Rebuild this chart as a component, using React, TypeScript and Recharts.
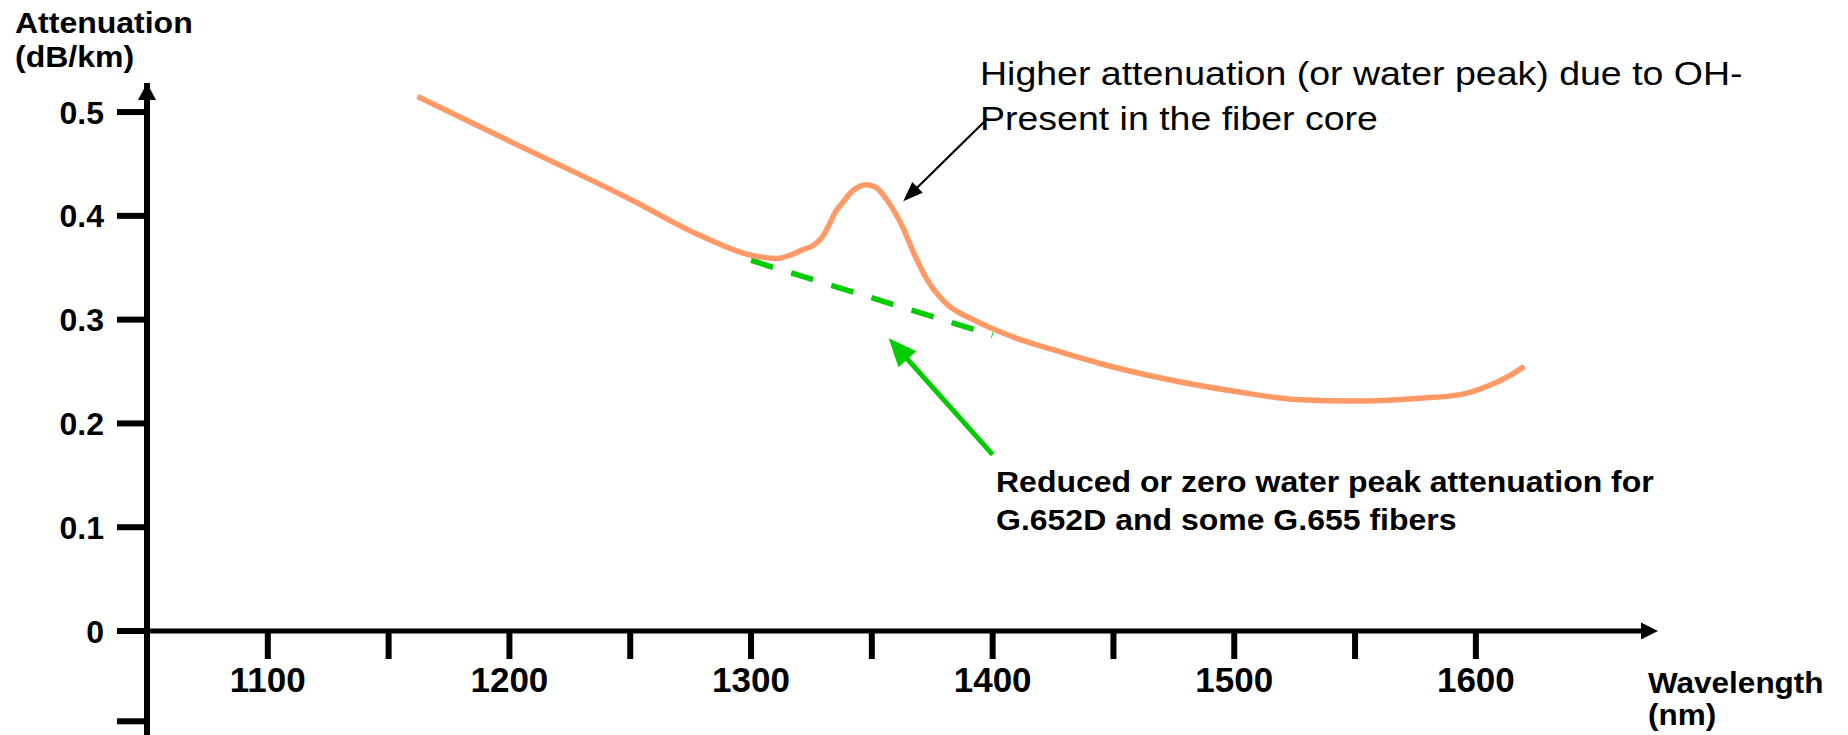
import React from 'react';
import { LineChart, Line, XAxis, YAxis, ReferenceLine } from 'recharts';

// ---- data ----
const WAVELENGTH_NM = [1162, 1200, 1250, 1279, 1300, 1311, 1316, 1321, 1326, 1329, 1332, 1335, 1338, 1342, 1348, 1352, 1356, 1363, 1367, 1373, 1381, 1392, 1410, 1425, 1444, 1500, 1526, 1550, 1575, 1594, 1606, 1614, 1620];
const ATTENUATION_DB_KM = [0.515, 0.472, 0.416, 0.381, 0.362, 0.359, 0.362, 0.367, 0.372, 0.378, 0.39, 0.404, 0.413, 0.424, 0.43, 0.427, 0.416, 0.388, 0.366, 0.338, 0.315, 0.3, 0.282, 0.271, 0.258, 0.231, 0.223, 0.2215, 0.224, 0.228, 0.237, 0.246, 0.255];

const LOW_WATER_PEAK_NM = [1300, 1400];
const LOW_WATER_PEAK_DB_KM = [0.357, 0.285];

const X_TICKS = [1100, 1150, 1200, 1250, 1300, 1350, 1400, 1450, 1500, 1550, 1600];
const X_LABELLED_EVERY = 100;
const Y_TICKS = [0, 0.1, 0.2, 0.3, 0.4, 0.5];
const Y_BELOW_ZERO_TICK = -0.087;

const X_DOMAIN: [number, number] = [1050, 1670];
const Y_DOMAIN: [number, number] = [0, 0.528];

// annotation arrows (tail -> tip), in data coordinates
const OH_ARROW_NM = [1398, 1363];
const OH_ARROW_DB = [0.494, 0.414];
const LWP_ARROW_NM = [1400, 1357];
const LWP_ARROW_DB = [0.17, 0.282];

const OH_TEXT = ['Higher attenuation (or water peak) due to OH-', 'Present in the fiber core'];
const LWP_TEXT = ['Reduced or zero water peak attenuation for', 'G.652D and some G.655 fibers'];
const Y_TITLE = ['Attenuation', '(dB/km)'];
const X_TITLE = ['Wavelength', '(nm)'];

const curveData = WAVELENGTH_NM.map((x, i) => ({ x, y: ATTENUATION_DB_KM[i] }));
const lwpData = LOW_WATER_PEAK_NM.map((x, i) => ({ x, y: LOW_WATER_PEAK_DB_KM[i] }));

// ---- layout ----
const W = 1848;
const H = 735;
const M_TOP = 83;
const M_RIGHT = 203;
const Y_AXIS_W = 147;
const X_AXIS_H = 104;
const PLOT_BOTTOM = H - X_AXIS_H;
const PLOT_RIGHT = W - M_RIGHT;
const PX_PER_UNIT = (PLOT_BOTTOM - M_TOP) / (Y_DOMAIN[1] - Y_DOMAIN[0]);

const FONT = '"Liberation Sans", Arial, Helvetica, sans-serif';
const ORANGE = '#FF9966';
const GREEN = '#00CC00';

function XTick(props: any) {
  const { x, y, payload } = props;
  const v = payload?.value;
  if (v == null || v % X_LABELLED_EVERY !== 0) return <g />;
  return (
    <text x={x} y={y + 33} textAnchor="middle" fontFamily={FONT} fontWeight="bold" fontSize={35} fill="#000">
      {String(v)}
    </text>
  );
}

function YTick(props: any) {
  const { x, y, payload } = props;
  return (
    <text x={x} y={y} dy="0.36em" textAnchor="end" fontFamily={FONT} fontWeight="bold" fontSize={32} fill="#000">
      {String(payload?.value)}
    </text>
  );
}

function makeArrow(color: string, sw: number, headLen: number, headHalf: number) {
  return (p: any) => {
    const { x1, y1, x2, y2 } = p;
    if ([x1, y1, x2, y2].some((v) => typeof v !== 'number' || isNaN(v))) return <g />;
    const dx = x2 - x1;
    const dy = y2 - y1;
    const L = Math.hypot(dx, dy) || 1;
    const ux = dx / L;
    const uy = dy / L;
    const bx = x2 - ux * headLen;
    const by = y2 - uy * headLen;
    const px = -uy;
    const py = ux;
    return (
      <g>
        <line x1={x1} y1={y1} x2={bx + ux} y2={by + uy} stroke={color} strokeWidth={sw} />
        <polygon
          points={`${x2},${y2} ${bx + px * headHalf},${by + py * headHalf} ${bx - px * headHalf},${by - py * headHalf}`}
          fill={color}
        />
      </g>
    );
  };
}

function SqText({ x, y, size, bold, sq, children }: { x: number; y: number; size: number; bold?: boolean; sq: number; children: React.ReactNode }) {
  return (
    <text
      transform={`translate(${x} ${y}) scale(1 ${sq})`}
      fontFamily={FONT}
      fontWeight={bold ? 'bold' : 'normal'}
      fontSize={size}
      fill="#000"
    >
      {children}
    </text>
  );
}

export default function App() {
  const belowTickY = PLOT_BOTTOM - Y_BELOW_ZERO_TICK * PX_PER_UNIT;
  return (
    <div style={{ position: 'absolute', left: 0, top: 0, width: W, height: H, background: '#fff' }}>
      <LineChart width={W} height={H} margin={{ top: M_TOP, right: M_RIGHT, bottom: 0, left: 0 }}>
        <XAxis
          type="number"
          dataKey="x"
          domain={X_DOMAIN}
          ticks={X_TICKS}
          interval={0}
          allowDataOverflow
          height={X_AXIS_H}
          tickSize={28}
          tickMargin={0}
          axisLine={{ stroke: '#000', strokeWidth: 5 }}
          tickLine={{ stroke: '#000', strokeWidth: 6 }}
          tick={<XTick />}
        />
        <YAxis
          type="number"
          dataKey="y"
          domain={Y_DOMAIN}
          ticks={Y_TICKS}
          interval={0}
          allowDataOverflow
          width={Y_AXIS_W}
          tickSize={30}
          tickMargin={13}
          axisLine={{ stroke: '#000', strokeWidth: 6 }}
          tickLine={{ stroke: '#000', strokeWidth: 6 }}
          tick={<YTick />}
        />
        <Line
          data={lwpData}
          dataKey="y"
          type="linear"
          stroke={GREEN}
          strokeWidth={5.5}
          strokeDasharray="23 19"
          dot={false}
          activeDot={false}
          isAnimationActive={false}
        />
        <Line
          data={curveData}
          dataKey="y"
          type="monotone"
          stroke={ORANGE}
          strokeWidth={5.5}
          dot={false}
          activeDot={false}
          isAnimationActive={false}
        />
        <ReferenceLine
          segment={[
            { x: OH_ARROW_NM[0], y: OH_ARROW_DB[0] },
            { x: OH_ARROW_NM[1], y: OH_ARROW_DB[1] },
          ]}
          ifOverflow="visible"
          stroke="#000"
          shape={makeArrow('#000', 2.2, 20, 7.5)}
        />
        <ReferenceLine
          segment={[
            { x: LWP_ARROW_NM[0], y: LWP_ARROW_DB[0] },
            { x: LWP_ARROW_NM[1], y: LWP_ARROW_DB[1] },
          ]}
          ifOverflow="visible"
          stroke={GREEN}
          shape={makeArrow(GREEN, 5, 28, 12)}
        />
      </LineChart>
      <svg
        width={W}
        height={H}
        style={{ position: 'absolute', left: 0, top: 0, pointerEvents: 'none' }}
      >
        {/* y-axis arrow head and extension below zero */}
        <polygon points={`${Y_AXIS_W},${M_TOP} ${Y_AXIS_W - 9},${M_TOP + 17} ${Y_AXIS_W + 9},${M_TOP + 17}`} fill="#000" />
        <line x1={Y_AXIS_W} y1={PLOT_BOTTOM} x2={Y_AXIS_W} y2={H} stroke="#000" strokeWidth={6} />
        <line x1={Y_AXIS_W - 30} y1={belowTickY} x2={Y_AXIS_W} y2={belowTickY} stroke="#000" strokeWidth={6} />
        {/* x-axis arrow head */}
        <polygon
          points={`${PLOT_RIGHT + 13},${PLOT_BOTTOM} ${PLOT_RIGHT - 4},${PLOT_BOTTOM - 8.5} ${PLOT_RIGHT - 4},${PLOT_BOTTOM + 8.5}`}
          fill="#000"
        />
        {/* axis titles */}
        <SqText x={15} y={33} size={32} bold sq={0.95}>{Y_TITLE[0]}</SqText>
        <SqText x={15} y={67} size={32} bold sq={0.95}>{Y_TITLE[1]}</SqText>
        <SqText x={1648} y={693} size={31.5} bold sq={0.95}>{X_TITLE[0]}</SqText>
        <SqText x={1648} y={725} size={31.5} bold sq={0.95}>{X_TITLE[1]}</SqText>
        {/* annotations */}
        <SqText x={980} y={85} size={37.5} sq={0.9}>{OH_TEXT[0]}</SqText>
        <SqText x={980} y={130} size={37.5} sq={0.9}>{OH_TEXT[1]}</SqText>
        <SqText x={996} y={492} size={32} bold sq={0.95}>{LWP_TEXT[0]}</SqText>
        <SqText x={996} y={530} size={32} bold sq={0.95}>{LWP_TEXT[1]}</SqText>
      </svg>
    </div>
  );
}
